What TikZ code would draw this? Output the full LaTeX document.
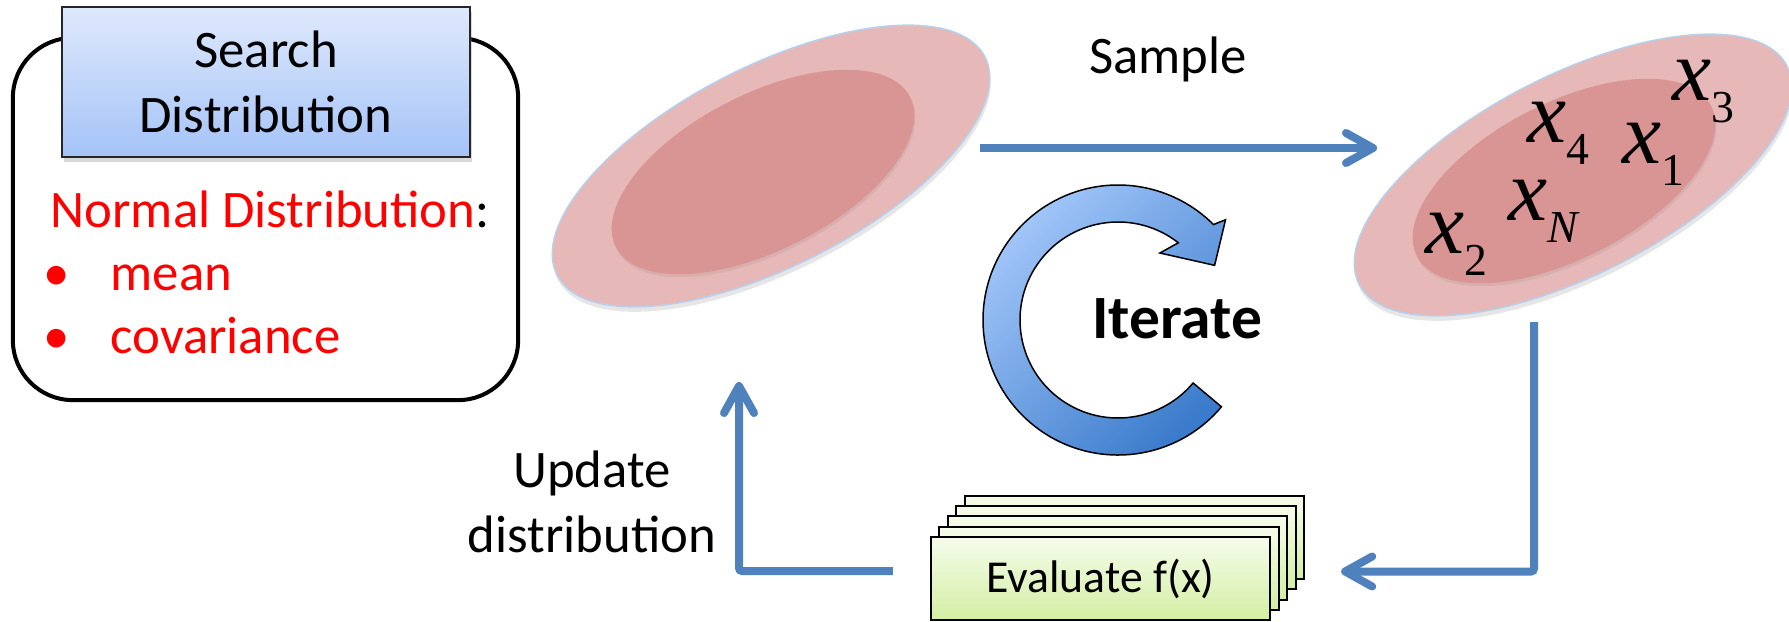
\documentclass[tikz,border=0pt]{standalone}
\usepackage{fontspec}
\setmainfont{Carlito}
\newfontfamily\seriffont{Liberation Serif}
\usetikzlibrary{shapes.geometric,arrows.meta,shadows}
\definecolor{flowblue}{HTML}{4F81BD}
\definecolor{headtop}{HTML}{DFE9FC}
\definecolor{headbot}{HTML}{A4C3F7}
\definecolor{ellpink}{HTML}{E6B8B7}
\definecolor{ellrose}{HTML}{D99594}
\definecolor{ellrim}{HTML}{B8D0EC}
\definecolor{evtop}{HTML}{F5FCEB}
\definecolor{evbot}{HTML}{D3EFA3}
\definecolor{itlight}{HTML}{A6C9FB}
\definecolor{itdark}{HTML}{3A7BCB}
% sample point with a subscript
\newcommand\xs[1]{x\raisebox{-0.22cm}{\fontsize{13}{13}\selectfont\upshape #1}}
\begin{document}
\begin{tikzpicture}[x=0.01cm, y=0.01cm, >={Straight Barb[length=0.27cm,width=0.3cm,line cap=round,line join=round]}]
\tikzset{roundbox/.style={draw=black, line width=0.04cm, rounded corners=0.6cm, minimum width=5.05cm, minimum height=3.62cm},
  headbox/.style={draw=black!85, line width=0.02cm, top color=headtop, bottom color=headbot, minimum width=4.08cm, minimum height=1.5cm, align=center, font=\fontsize{15}{18.5}\selectfont, drop shadow={opacity=0.3, shadow xshift=0.02cm, shadow yshift=-0.05cm}},
  outerell/.style={ellipse, fill=ellpink, draw=ellrim, line width=0.015cm, inner sep=0, minimum width=4.8cm, minimum height=2cm, rotate=27, drop shadow={opacity=0.2, shadow xshift=0.01cm, shadow yshift=-0.05cm}},
  innerell/.style={ellipse, fill=ellrose, inner sep=0, minimum width=3.3cm, minimum height=1.56cm, rotate=27, drop shadow={opacity=0.15, shadow xshift=0.01cm, shadow yshift=-0.03cm}},
  evalbox/.style={draw=black, line width=0.02cm, top color=evtop, bottom color=evbot, minimum width=3.39cm, minimum height=0.83cm, inner sep=0},
  flow/.style={draw=flowblue, line width=0.08cm, ->, rounded corners=0.03cm},
  txt/.style={inner sep=0, font=\fontsize{15}{18.5}\selectfont},
  smp/.style={anchor=base west, inner sep=0, font=\fontsize{25}{25}\selectfont\seriffont\itshape}}
\useasboundingbox (0,0) rectangle (1789,-621);

%% search distribution box
\node[roundbox] (searchbox) at (265.5,-219) {};
\node[headbox] (header) at (266,-82) {Search\\Distribution};
\node[txt, anchor=base west, text=red] (normlab) at (50,-227) {Normal Distribution\textcolor{black}{:}};
\node[txt, anchor=base, text=red] (bmean) at (57,-290) {\textbullet};
\node[txt, anchor=base west, text=red] (meanlab) at (110,-290) {mean};
\node[txt, anchor=base, text=red] (bcov) at (57,-353) {\textbullet};
\node[txt, anchor=base west, text=red] (covlab) at (110,-353) {covariance};

%% distributions
\node[outerell] (dist) at (771,-166) {};
\node[innerell] (distcore) at (763,-172) {};
\node[outerell] (samples) at (1573,-175) {};
\node[innerell] (samplescore) at (1564,-181) {};
% samples
\node[smp] (x3) at (1672,-100) {\xs{3}};
\node[smp] (x4) at (1527,-142) {\xs{4}};
\node[smp] (x1) at (1622,-163) {\xs{1}};
\node[smp] (xN) at (1508,-220) {\xs{\itshape N}};
\node[smp] (x2) at (1425,-253) {\xs{2}};

%% iterate arrow
\coordinate (itc) at (1118,-320);
\path[draw=black, line width=0.015cm, top color=itlight, bottom color=itdark, shading angle=45]
  ([shift={(-40:135)}]itc) arc[start angle=-40, end angle=-315, radius=135]
  -- ([shift={(43:147)}]itc) -- ([shift={(29.5:111)}]itc) -- ([shift={(58:79)}]itc)
  -- ([shift={(52:98)}]itc) arc[start angle=-308, end angle=-40, radius=98] -- cycle;
\node[txt, anchor=base, font=\fontsize{17.5}{20}\selectfont\bfseries] (iterlab) at (1177,-338) {Iterate};

%% evaluation stack
\foreach \i in {4,3,2,1}
  \node[evalbox] (eval\i) at (1100.5+8.5*\i,-578.5+10.25*\i) {};
\node[evalbox, font=\fontsize{13}{15}\selectfont] (eval) at (1100.5,-578.5) {Evaluate f(x)};

%% paths
\coordinate (sampstart) at (980,-148);
\coordinate (sampend) at (1377,-148);
\coordinate (dropstart) at (1534,-322);
\coordinate (updend) at (739,-382);
\draw[flow] (sampstart) -- (sampend);
\draw[flow] (dropstart) |- ([xshift=0.7cm,yshift=0.07cm]eval.east);
\draw[flow] ([xshift=-0.37cm,yshift=0.075cm]eval.west) -| (updend);

% path labels
\node[txt, anchor=base] (samplelab) at (1168,-73) {Sample};
\node[txt, align=center] (updlab) at (592,-502) {Update\\distribution};
\end{tikzpicture}
\end{document}
